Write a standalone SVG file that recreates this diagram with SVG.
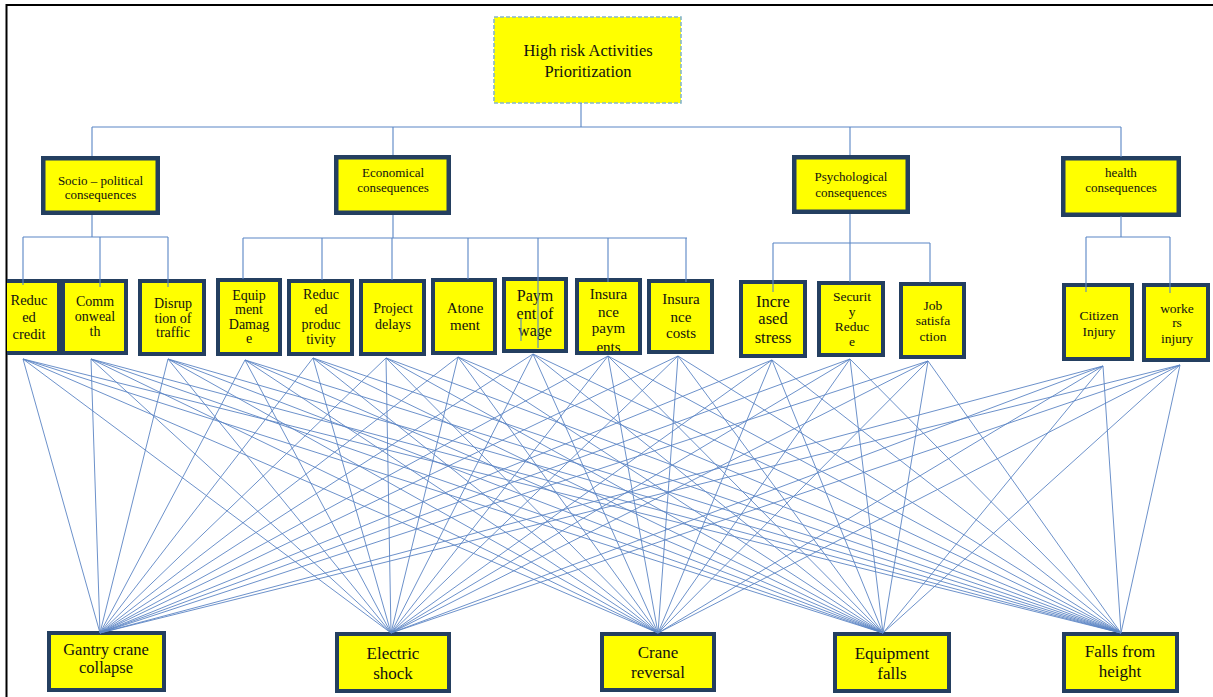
<svg xmlns="http://www.w3.org/2000/svg" width="1213" height="697" viewBox="0 0 1213 697">
<style>
.box{fill:#ffff00;stroke:#243f60;stroke-width:4}
.cat{fill:#ffff00;stroke:#243f60;stroke-width:4.5}
.top{fill:#ffff00;stroke:#86b6cb;stroke-width:1.6;stroke-dasharray:4 2}
.t{font-family:'Liberation Serif','Times New Roman',serif;fill:#111;text-anchor:middle}
.c{stroke:#5a86c5;stroke-width:1.1;fill:none}
.f line{stroke:#5b84c4;stroke-width:0.9}
</style>
<defs>
<clipPath id="clipRC"><rect x="7" y="0" width="200" height="697"/></clipPath>
<clipPath id="clipIP"><rect x="579" y="282" width="59" height="69"/></clipPath>
</defs>
<rect x="0" y="0" width="1213" height="697" fill="#ffffff"/>
<path d="M6.5,697 V5 H1213" fill="none" stroke="#000" stroke-width="2"/>

<g id="root">
<rect class="top" x="494" y="17" width="187" height="86"/>
<text class="t" x="588" y="56" font-size="16.5">High risk Activities</text>
<text class="t" x="588" y="77" font-size="16.5">Prioritization</text>
</g>

<g id="cat-socio">
<rect class="cat" x="43.25" y="158.25" width="114.5" height="54.5"/>
<text class="t" x="100.5" y="185" font-size="13">Socio – political</text>
<text class="t" x="100.5" y="199" font-size="13">consequences</text>
</g>
<g id="cat-econ">
<rect class="cat" x="336.25" y="157.25" width="112.5" height="55.5"/>
<text class="t" x="393" y="177" font-size="13">Economical</text>
<text class="t" x="393" y="192" font-size="13">consequences</text>
</g>
<g id="cat-psych">
<rect class="cat" x="794.25" y="157.25" width="113.5" height="54.5"/>
<text class="t" x="851" y="181" font-size="13">Psychological</text>
<text class="t" x="851" y="197" font-size="13">consequences</text>
</g>
<g id="cat-health">
<rect class="cat" x="1063.25" y="158.25" width="115.5" height="56.5"/>
<text class="t" x="1121" y="177" font-size="13">health</text>
<text class="t" x="1121" y="192" font-size="13">consequences</text>
</g>

<g id="leaf-reduced-credit" clip-path="url(#clipRC)">
<rect class="box" x="-1" y="281" width="60" height="72"/>
<text class="t" x="29" y="305" font-size="14.5">Reduc</text>
<text class="t" x="29" y="322" font-size="14.5">ed</text>
<text class="t" x="29" y="339" font-size="14.5">credit</text>
</g>
<g id="leaf-commonwealth">
<rect class="box" x="63" y="281" width="63" height="72"/>
<text class="t" x="95" y="306" font-size="14">Comm</text>
<text class="t" x="95" y="321" font-size="14">onweal</text>
<text class="t" x="95" y="336" font-size="14">th</text>
</g>
<g id="leaf-disruption">
<rect class="box" x="140" y="281" width="64" height="73"/>
<text class="t" x="173" y="308" font-size="14">Disrup</text>
<text class="t" x="173" y="323" font-size="14">tion of</text>
<text class="t" x="173" y="337" font-size="14">traffic</text>
</g>
<g id="leaf-equipment-damage">
<rect class="box" x="218" y="280" width="62" height="74"/>
<text class="t" x="249" y="300" font-size="14">Equip</text>
<text class="t" x="249" y="314" font-size="14">ment</text>
<text class="t" x="249" y="329" font-size="14">Damag</text>
<text class="t" x="249" y="343" font-size="14">e</text>
</g>
<g id="leaf-reduced-productivity">
<rect class="box" x="289" y="281" width="63" height="73"/>
<text class="t" x="321" y="299" font-size="14">Reduc</text>
<text class="t" x="321" y="314" font-size="14">ed</text>
<text class="t" x="321" y="329" font-size="14">produc</text>
<text class="t" x="321" y="344" font-size="14">tivity</text>
</g>
<g id="leaf-project-delays">
<rect class="box" x="361" y="281" width="63" height="73"/>
<text class="t" x="393" y="313" font-size="14">Project</text>
<text class="t" x="393" y="329" font-size="14">delays</text>
</g>
<g id="leaf-atonement">
<rect class="box" x="433" y="280" width="62" height="73"/>
<text class="t" x="465" y="313" font-size="15">Atone</text>
<text class="t" x="465" y="330" font-size="15">ment</text>
</g>
<g id="leaf-payment-of-wage">
<rect class="box" x="504" y="279" width="62" height="72"/>
<text class="t" x="535" y="301" font-size="16">Paym</text>
<text class="t" x="535" y="319" font-size="16">ent of</text>
<text class="t" x="535" y="336" font-size="16">wage</text>
</g>
<g id="leaf-insurance-payments">
<rect class="box" x="577" y="280" width="63" height="73"/>
<g clip-path="url(#clipIP)">
<text class="t" x="608.5" y="299" font-size="15">Insura</text>
<text class="t" x="608.5" y="317" font-size="15">nce</text>
<text class="t" x="608.5" y="333" font-size="15">paym</text>
<text class="t" x="608.5" y="352" font-size="15">ents</text>
</g>
</g>
<g id="leaf-insurance-costs">
<rect class="box" x="649" y="281" width="63" height="71"/>
<text class="t" x="681" y="304" font-size="15">Insura</text>
<text class="t" x="681" y="322" font-size="15">nce</text>
<text class="t" x="681" y="338" font-size="15">costs</text>
</g>
<g id="leaf-increased-stress">
<rect class="box" x="741" y="282" width="64" height="74"/>
<text class="t" x="773" y="307" font-size="16.5">Incre</text>
<text class="t" x="773" y="324" font-size="16.5">ased</text>
<text class="t" x="773" y="343" font-size="16.5">stress</text>
</g>
<g id="leaf-security-reduce">
<rect class="box" x="819" y="283" width="64" height="72"/>
<text class="t" x="852" y="301" font-size="13.5">Securit</text>
<text class="t" x="852" y="316" font-size="13.5">y</text>
<text class="t" x="852" y="331" font-size="13.5">Reduc</text>
<text class="t" x="852" y="346" font-size="13.5">e</text>
</g>
<g id="leaf-job-satisfaction">
<rect class="box" x="901" y="284" width="63" height="73"/>
<text class="t" x="933" y="310" font-size="13.5">Job</text>
<text class="t" x="933" y="325" font-size="13.5">satisfa</text>
<text class="t" x="933" y="341" font-size="13.5">ction</text>
</g>
<g id="leaf-citizen-injury">
<rect class="box" x="1064" y="285" width="68" height="74"/>
<text class="t" x="1099" y="320" font-size="13.5">Citizen</text>
<text class="t" x="1099" y="336" font-size="13.5">Injury</text>
</g>
<g id="leaf-workers-injury">
<rect class="box" x="1144" y="285" width="64" height="75"/>
<text class="t" x="1177" y="313" font-size="13.5">worke</text>
<text class="t" x="1177" y="327" font-size="13.5">rs</text>
<text class="t" x="1177" y="343" font-size="13.5">injury</text>
</g>

<g id="act-gantry">
<rect class="box" x="49" y="633" width="115" height="57"/>
<text class="t" x="106" y="655" font-size="16.5">Gantry crane</text>
<text class="t" x="106" y="673" font-size="16.5">collapse</text>
</g>
<g id="act-electric">
<rect class="box" x="337" y="634" width="112" height="57"/>
<text class="t" x="393" y="659" font-size="17">Electric</text>
<text class="t" x="393" y="679" font-size="17">shock</text>
</g>
<g id="act-crane">
<rect class="box" x="602" y="634" width="112" height="56"/>
<text class="t" x="658" y="658" font-size="17">Crane</text>
<text class="t" x="658" y="678" font-size="17">reversal</text>
</g>
<g id="act-equipment">
<rect class="box" x="835" y="634" width="114" height="57"/>
<text class="t" x="892" y="659" font-size="17">Equipment</text>
<text class="t" x="892" y="679" font-size="17">falls</text>
</g>
<g id="act-falls">
<rect class="box" x="1064" y="634" width="113" height="57"/>
<text class="t" x="1120" y="657" font-size="17">Falls from</text>
<text class="t" x="1120" y="677" font-size="17">height</text>
</g>

<g id="connectors">
<g id="tree">
<path class="c" d="M581,103 V127 M92,127 H1121 M92,127 V156 M393,127 V155 M850,127 V155 M1121,127 V157"/>
<path class="c" d="M92,215 V237 M23,237 H168 M23,237 V285 M100,237 V287 M168,237 V287"/>
<path class="c" d="M393,215 V238 M243,238 H687 M243,238 V279 M322,238 V280 M392,238 V280 M468,238 V279 M538,238 V348 M608,238 V282 M686,238 V282 M521,318 V341"/>
<path class="c" d="M850,214 V282 M773,243 H930 M773,243 V292 M930,243 V283"/>
<path class="c" d="M1121,216 V237 M1086,237 H1170 M1086,237 V292 M1170,237 V293"/>
</g>
<g id="fan" class="f">
<line x1="23" y1="359" x2="100" y2="633"/><line x1="23" y1="359" x2="391" y2="633"/><line x1="23" y1="359" x2="658" y2="633"/><line x1="23" y1="359" x2="883" y2="633"/><line x1="23" y1="359" x2="1121" y2="633"/>
<line x1="91" y1="359" x2="100" y2="633"/><line x1="91" y1="359" x2="391" y2="633"/><line x1="91" y1="359" x2="658" y2="633"/><line x1="91" y1="359" x2="883" y2="633"/><line x1="91" y1="359" x2="1121" y2="633"/>
<line x1="168" y1="359" x2="100" y2="633"/><line x1="168" y1="359" x2="391" y2="633"/><line x1="168" y1="359" x2="658" y2="633"/><line x1="168" y1="359" x2="883" y2="633"/><line x1="168" y1="359" x2="1121" y2="633"/>
<line x1="245" y1="360" x2="100" y2="633"/><line x1="245" y1="360" x2="391" y2="633"/><line x1="245" y1="360" x2="658" y2="633"/><line x1="245" y1="360" x2="883" y2="633"/><line x1="245" y1="360" x2="1121" y2="633"/>
<line x1="313" y1="358" x2="100" y2="633"/><line x1="313" y1="358" x2="391" y2="633"/><line x1="313" y1="358" x2="658" y2="633"/><line x1="313" y1="358" x2="883" y2="633"/><line x1="313" y1="358" x2="1121" y2="633"/>
<line x1="386" y1="358" x2="100" y2="633"/><line x1="386" y1="358" x2="391" y2="633"/><line x1="386" y1="358" x2="658" y2="633"/><line x1="386" y1="358" x2="883" y2="633"/><line x1="386" y1="358" x2="1121" y2="633"/>
<line x1="458" y1="357" x2="100" y2="633"/><line x1="458" y1="357" x2="391" y2="633"/><line x1="458" y1="357" x2="658" y2="633"/><line x1="458" y1="357" x2="883" y2="633"/><line x1="458" y1="357" x2="1121" y2="633"/>
<line x1="533" y1="354" x2="100" y2="633"/><line x1="533" y1="354" x2="391" y2="633"/><line x1="533" y1="354" x2="658" y2="633"/><line x1="533" y1="354" x2="883" y2="633"/><line x1="533" y1="354" x2="1121" y2="633"/>
<line x1="608" y1="356" x2="100" y2="633"/><line x1="608" y1="356" x2="391" y2="633"/><line x1="608" y1="356" x2="658" y2="633"/><line x1="608" y1="356" x2="883" y2="633"/><line x1="608" y1="356" x2="1121" y2="633"/>
<line x1="678" y1="356" x2="100" y2="633"/><line x1="678" y1="356" x2="391" y2="633"/><line x1="678" y1="356" x2="658" y2="633"/><line x1="678" y1="356" x2="883" y2="633"/><line x1="678" y1="356" x2="1121" y2="633"/>
<line x1="772" y1="360" x2="100" y2="633"/><line x1="772" y1="360" x2="391" y2="633"/><line x1="772" y1="360" x2="658" y2="633"/><line x1="772" y1="360" x2="883" y2="633"/><line x1="772" y1="360" x2="1121" y2="633"/>
<line x1="850" y1="359" x2="100" y2="633"/><line x1="850" y1="359" x2="391" y2="633"/><line x1="850" y1="359" x2="658" y2="633"/><line x1="850" y1="359" x2="883" y2="633"/><line x1="850" y1="359" x2="1121" y2="633"/>
<line x1="928" y1="361" x2="100" y2="633"/><line x1="928" y1="361" x2="391" y2="633"/><line x1="928" y1="361" x2="658" y2="633"/><line x1="928" y1="361" x2="883" y2="633"/><line x1="928" y1="361" x2="1121" y2="633"/>
<line x1="1103" y1="366" x2="100" y2="633"/><line x1="1103" y1="366" x2="391" y2="633"/><line x1="1103" y1="366" x2="658" y2="633"/><line x1="1103" y1="366" x2="883" y2="633"/><line x1="1103" y1="366" x2="1121" y2="633"/>
<line x1="1180" y1="365" x2="100" y2="633"/><line x1="1180" y1="365" x2="391" y2="633"/><line x1="1180" y1="365" x2="658" y2="633"/><line x1="1180" y1="365" x2="883" y2="633"/><line x1="1180" y1="365" x2="1121" y2="633"/>
</g>
</g>
</svg>
